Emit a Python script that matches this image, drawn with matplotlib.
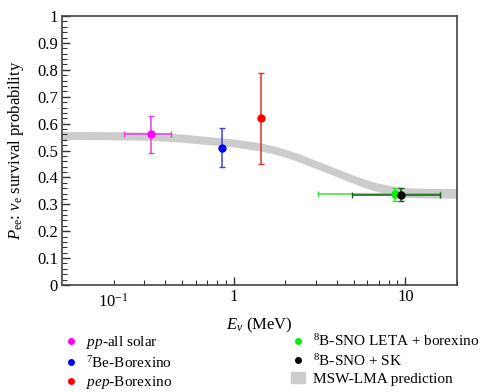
import numpy as np
import matplotlib.pyplot as plt
from matplotlib.ticker import MultipleLocator, NullFormatter
from matplotlib.transforms import blended_transform_factory
from matplotlib.lines import Line2D
from matplotlib.patches import Patch

plt.rcParams['font.family'] = ['Liberation Serif', 'DejaVu Serif']
plt.rcParams['mathtext.fontset'] = 'custom'
plt.rcParams['mathtext.rm'] = 'Liberation Serif'
plt.rcParams['mathtext.it'] = 'Liberation Serif:italic'
plt.rcParams['font.size'] = 12

# measured survival probabilities: energy, energy range, value, error
pp_E, pp_Elo, pp_Ehi, pp_P, pp_dP = 0.33, 0.23, 0.43, 0.56, 0.07
be7_E, be7_P, be7_dP = 0.86, 0.51, 0.072
pep_E, pep_P, pep_dP = 1.44, 0.62, 0.17
leta_E, leta_Elo, leta_Ehi, leta_P, leta_dP = 8.7, 3.1, 16.0, 0.338, 0.024
sk_E, sk_Elo, sk_Ehi, sk_P, sk_dP = 9.4, 4.9, 16.0, 0.335, 0.024

# MSW-LMA prediction band
band_E = [0.1, 0.2, 0.33, 0.5, 0.83, 1.0, 1.42, 1.7, 2.0, 2.4, 2.9, 3.5, 4.15,
          5.0, 5.9, 6.8, 7.7, 8.7, 10.0, 14.0, 20.0]
band_mid = [0.556, 0.555, 0.553, 0.546, 0.533, 0.528, 0.514, 0.503, 0.490,
            0.473, 0.452, 0.432, 0.413, 0.393, 0.376, 0.364, 0.356, 0.349,
            0.344, 0.341, 0.341]
band_half = [0.015, 0.015, 0.015, 0.015, 0.015, 0.015, 0.015, 0.015, 0.015,
             0.015, 0.015, 0.015, 0.015, 0.015, 0.016, 0.016, 0.017, 0.017,
             0.018, 0.018, 0.018]

fig = plt.figure(figsize=(4.86, 3.92), dpi=100)
ax = fig.add_axes([0.1276, 0.273, 0.8127, 0.686])

mid = np.array(band_mid)
half = np.array(band_half)
ax.fill_between(band_E, mid - half, mid + half, color='#cccccc', lw=0, zorder=1)


def point(x, y, dy, c, ec, xlo=None, xhi=None):
    xerr = None
    if xlo is not None:
        xerr = [[x - xlo], [xhi - x]]
    ax.errorbar([x], [y], yerr=[dy], xerr=xerr, fmt='o', color=c, ms=5,
                ecolor=ec, elinewidth=1.1, capsize=2, capthick=1, zorder=3)


point(pp_E, pp_P, pp_dP, '#ff00ff', '#e040e0', pp_Elo, pp_Ehi)
point(be7_E, be7_P, be7_dP, '#0000ff', '#4040e0')
point(pep_E, pep_P, pep_dP, '#ff0000', '#e03030')
point(leta_E, leta_P, leta_dP, '#00ee00', '#40e040', leta_Elo, leta_Ehi)
point(sk_E, sk_P, sk_dP, '#000000', '#1a5a1a', sk_Elo, sk_Ehi)

ax.set_xscale('log')
ax.set_xlim(0.1, 20)
ax.set_ylim(0, 1)

ax.set_xticks([1, 10], ['1', '10'])
ax.xaxis.set_minor_formatter(NullFormatter())
trans = blended_transform_factory(ax.transData, ax.transAxes)
ax.text(0.2, -0.028, '$10^{-1}$', transform=trans, ha='center', va='top')

ax.yaxis.set_minor_locator(MultipleLocator(0.02))
ax.set_yticks(np.arange(0, 1.01, 0.1),
              ['0'] + ['%.1f' % v for v in np.arange(0.1, 0.95, 0.1)] + ['1'])

ax.tick_params(which='both', direction='in', top=False, right=False, colors='#333333')
ax.tick_params(which='major', length=6, width=1, pad=3)
ax.tick_params(which='minor', length=3.5, width=0.8)
ax.tick_params(axis='both', labelcolor='black')
for s in ax.spines.values():
    s.set_color('#444444')
    s.set_linewidth(1.2)

ax.set_xlabel(r'$E_\nu$ (MeV)', labelpad=8)
ax.set_ylabel(r'$P_{\rm ee}$: $\nu_{\rm e}$ survival probability', labelpad=8)

labels = ['$pp$-all solar', '$^{7}$Be-Borexino', '$pep$-Borexino',
          '$^{8}$B-SNO LETA + borexino', '$^{8}$B-SNO + SK', 'MSW-LMA prediction']
cols = ['#ff00ff', '#0000ff', '#ff0000', '#00ee00', '#000000']
handles = [Line2D([], [], ls='', marker='o', ms=4, color=c) for c in cols]
handles.append(Patch(color='#cccccc'))
fig.legend(handles, labels, loc='upper left', bbox_to_anchor=(0.12, 0.165),
           ncol=2, frameon=False, fontsize=11, handlelength=0.9,
           handletextpad=0.5, columnspacing=7.8, labelspacing=0.22,
           borderaxespad=0)

fig.savefig('out.png', dpi=100)
